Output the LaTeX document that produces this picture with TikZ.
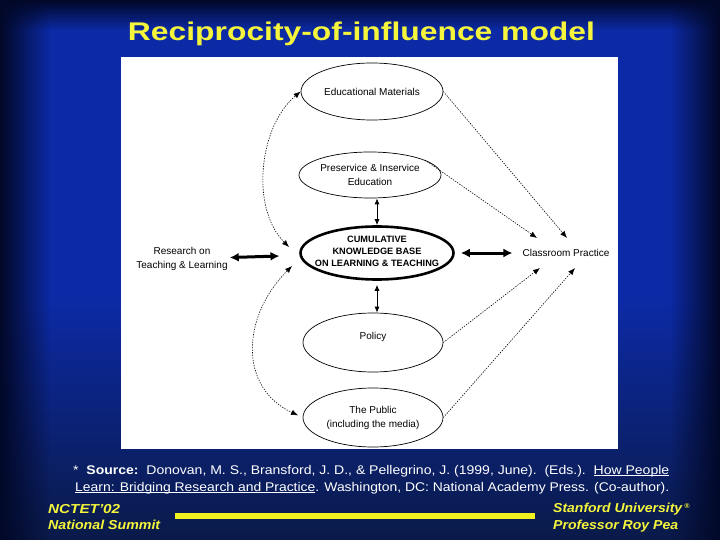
\documentclass[tikz,border=0pt]{standalone}
\usepackage{fontspec}
\setmainfont{Liberation Sans}
\usetikzlibrary{shapes.geometric,arrows.meta,fadings}
\definecolor{bgblue}{RGB}{12,42,165}
\definecolor{bgedge}{RGB}{2,8,40}
\definecolor{bgdeep}{RGB}{10,26,72}
\definecolor{ttlyellow}{RGB}{245,245,60}
\definecolor{baryellow}{RGB}{240,240,30}
\newcommand{\undr}[1]{\setbox0\hbox{#1}\rlap{\rule[-1.6pt]{\wd0}{0.7pt}}\box0}
\newcommand{\fitw}[2]{\resizebox{#1}{\height}{#2}}
\tikzfading[name=edgeL, left color=transparent!0, right color=transparent!100]
\tikzfading[name=edgeR, left color=transparent!100, right color=transparent!0]
\tikzfading[name=edgeT, top color=transparent!0, bottom color=transparent!100]
\tikzset{
    topic/.style={ellipse, draw, line width=0.7pt, inner sep=-6pt, align=center, font=\fontsize{10}{14}\selectfont},
    core/.style={ellipse, draw, line width=2.6pt, inner xsep=-16pt, inner ysep=-4pt, align=center, font=\bfseries\fontsize{9.2}{12}\selectfont},
    plain/.style={inner sep=0pt, align=center, font=\fontsize{10}{14.5}\selectfont},
    link/.style={line width=0.6pt, dash pattern=on 1.3pt off 1.3pt, -{Latex[length=7pt,width=5.5pt]}},
    linkb/.style={link, {Latex[length=7pt,width=5.5pt]}-{Latex[length=7pt,width=5.5pt]}},
    both/.style={line width=0.8pt, {Latex[length=6pt,width=5pt]}-{Latex[length=6pt,width=5pt]}},
    fat/.style={line width=3pt, {Latex[length=9pt,width=9pt]}-{Latex[length=9pt,width=9pt]}},
    ttl/.style={text=ttlyellow, inner sep=0pt, anchor=base, font=\bfseries\fontsize{25.6}{28}\selectfont},
    foot/.style={text=white, inner sep=0pt, anchor=base west, font=\fontsize{12.6}{15}\selectfont},
    sign/.style={text=ttlyellow, inner sep=0pt, anchor=base west, font=\bfseries\itshape\fontsize{13}{15}\selectfont}
}
\begin{document}
\begin{tikzpicture}[x=1pt,y=-1pt]
\useasboundingbox (0,0) rectangle (720,540);
\fill[bgblue] (0,0) rectangle (720,541);
\shade[top color=bgblue, bottom color=bgdeep] (0,300) rectangle (720,540);
\fill[bgedge, path fading=edgeT] (0,0) rectangle (720,30);
\fill[bgedge, path fading=edgeL] (0,0) rectangle (50,540);
\fill[bgedge, path fading=edgeR] (670,0) rectangle (720,540);
\fill[white] (121,57) rectangle (618,449);

\node[ttl] (title) at (361.5,41) {\fitw{467pt}{Reciprocity-of-influence model}};

\node[topic, minimum width=142pt, minimum height=57pt] (edu) at (372,91.5) {Educational Materials};
\node[topic, minimum width=142pt, minimum height=46pt] (pre) at (370,175) {Preservice \& Inservice\\Education};
\node[core, minimum width=153pt, minimum height=53pt, text depth=4pt] (ckb) at (377,253) {CUMULATIVE\\KNOWLEDGE BASE\\ON LEARNING \& TEACHING};
\node[topic, minimum width=140pt, minimum height=59pt, text depth=13pt] (pol) at (373,342.5) {Policy};
\node[topic, minimum width=140pt, minimum height=59pt] (pub) at (373,417.5) {The Public\\(including the media)};
\node[plain] (res) at (182,259) {Research on\\Teaching \& Learning};
\node[plain, minimum height=30pt] (cls) at (566,253) {Classroom Practice};

\coordinate (kbnw) at (289,247);
\coordinate (kbsw) at (292,266);
\coordinate (cp1) at (537,238);
\coordinate (cp2) at (567,238);
\coordinate (cp3) at (540,268);
\coordinate (cp4) at (575,268);

\draw[fat, shorten <=2pt, shorten >=20pt] (res) -- (ckb);
\draw[fat, shorten <=6pt, shorten >=10pt] (ckb) -- (cls);
\draw[both] (ckb.north) -- (ckb.north |- pre.south);
\draw[both, shorten <=4pt] (ckb.south) -- (ckb.south |- pol.north);

\draw[linkb] (kbnw) to[out=135, in=220, looseness=0.9] (edu.west);
\draw[linkb, shorten >=5pt] (kbsw) to[out=225, in=155, looseness=1.2] (pub.west);
\draw[link] (edu.east) -- (cp2);
\draw[link] (pre.15) -- (cp1);
\draw[link] (pol.east) -- (cp3);
\draw[link] (pub.east) -- (cp4);

\node[foot] (src1) at (73,474) {\fitw{596pt}{*\ \ \textbf{Source:}\ \ Donovan, M. S., Bransford, J. D., \& Pellegrino, J. (1999, June).\ \ (Eds.).\ \ \undr{How People}}};
\node[foot] (src2) at (75,491) {\fitw{594pt}{\undr{Learn: Bridging Research and Practice}. Washington, DC: National Academy Press. (Co-author).}};

\fill[baryellow] (175,513) rectangle (535,519);
\node[sign] (nc1) at (48,513) {\fitw{72pt}{NCTET’02}};
\node[sign] (nc2) at (48,529.5) {\fitw{112pt}{National Summit}};
\node[sign] (su1) at (553,512.5) {\fitw{129pt}{Stanford University}\,\raisebox{4pt}{\fontsize{7}{8}\selectfont ®}};
\node[sign] (su2) at (553,529.5) {\fitw{125pt}{Professor Roy Pea}};
\end{tikzpicture}
\end{document}
